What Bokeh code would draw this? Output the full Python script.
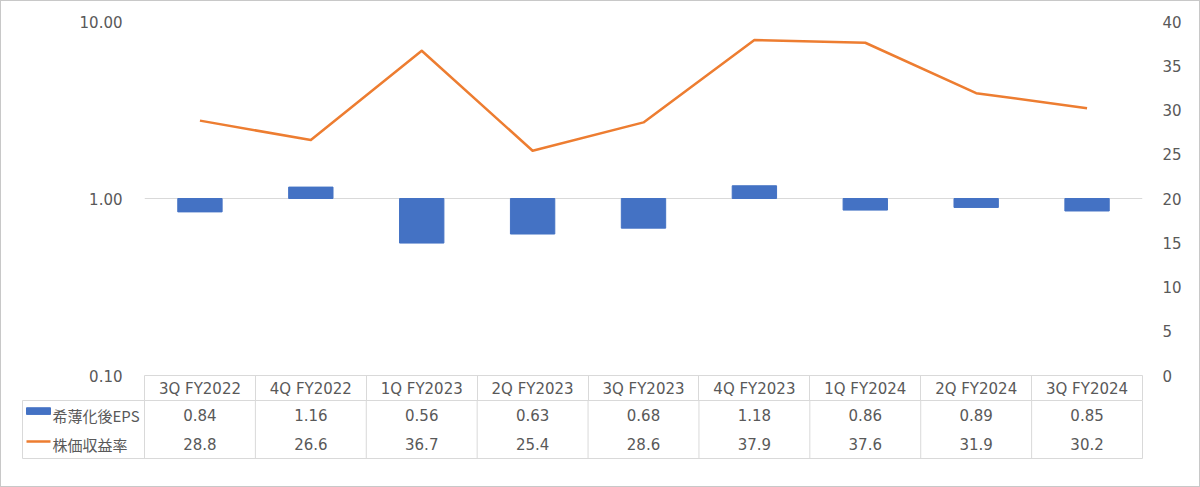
from bokeh.plotting import figure
from bokeh.layouts import column
from bokeh.models import (Range1d, LinearAxis, LogAxis, LinearScale, FixedTicker,
                          PrintfTickFormatter, ColumnDataSource)
from bokeh.core.properties import value
from bokeh.embed import file_html
from bokeh.resources import INLINE

# ---- data ----
categories = ["3Q FY2022", "4Q FY2022", "1Q FY2023", "2Q FY2023", "3Q FY2023",
              "4Q FY2023", "1Q FY2024", "2Q FY2024", "3Q FY2024"]
eps = [0.84, 1.16, 0.56, 0.63, 0.68, 1.18, 0.86, 0.89, 0.85]
per = [28.8, 26.6, 36.7, 25.4, 28.6, 37.9, 37.6, 31.9, 30.2]
eps_labels = ["0.84", "1.16", "0.56", "0.63", "0.68", "1.18", "0.86", "0.89", "0.85"]
per_labels = ["28.8", "26.6", "36.7", "25.4", "28.6", "37.9", "37.6", "31.9", "30.2"]
series_names = ["希薄化後EPS", "株価収益率"]
left_ticks = [0.1, 1, 10]
right_ticks = [0, 5, 10, 15, 20, 25, 30, 35, 40]

FONT = "DejaVu Sans"
JFONT = "Noto Sans CJK JP"
TXT = "#595959"
GRID = "#d9d9d9"
BLUE = "#4472C4"
ORANGE = "#ED7D31"
FS = "15px"

W = 1198
LEFT = 143
RIGHT = 57
FRAME_W = W - LEFT - RIGHT
n = len(categories)
xs = [i + 0.5 for i in range(n)]

# ---- top chart ----
p = figure(width=W, height=399, x_range=Range1d(0, n), y_range=Range1d(0.1, 10),
           y_axis_type="log", output_backend="svg", toolbar_location=None,
           min_border_left=LEFT, min_border_right=RIGHT, min_border_top=20,
           min_border_bottom=25, x_axis_location=None, y_axis_location=None,
           frame_align=False)
p.outline_line_color = None
p.extra_y_ranges = {"per": Range1d(0, 40)}
p.extra_y_scales = {"per": LinearScale()}

src = ColumnDataSource(dict(x=xs, eps=eps, per=per, cat=categories))
p.vbar(x="x", top="eps", bottom=1, width=0.4, source=src, color=BLUE)
p.line(x="x", y="per", source=src, y_range_name="per", line_color=ORANGE,
       line_width=2.5, line_join="round")

ly = LogAxis(ticker=FixedTicker(ticks=left_ticks),
             formatter=PrintfTickFormatter(format="%.2f"))
ly.axis_line_color = None
ly.major_tick_line_color = None
ly.minor_tick_line_color = None
ly.major_label_text_font = FONT
ly.major_label_text_font_size = FS
ly.major_label_text_color = TXT
ly.major_label_standoff = 16
p.add_layout(ly, "left")

ry = LinearAxis(y_range_name="per", ticker=FixedTicker(ticks=right_ticks))
ry.axis_line_color = None
ry.major_tick_line_color = None
ry.minor_tick_line_color = None
ry.major_label_text_font = FONT
ry.major_label_text_font_size = FS
ry.major_label_text_color = TXT
ry.major_label_standoff = 14
p.add_layout(ry, "right")

p.ygrid.ticker = FixedTicker(ticks=left_ticks)
p.ygrid.grid_line_color = GRID
p.xgrid.grid_line_color = None

# header row as categorical-style x axis
bx = LinearAxis(ticker=FixedTicker(ticks=xs, minor_ticks=list(range(n + 1))),
                major_label_overrides={x: c for x, c in zip(xs, categories)})
bx.axis_line_color = GRID
bx.major_tick_line_color = None
bx.major_tick_out = 0
bx.major_tick_in = 0
bx.minor_tick_line_color = GRID
bx.minor_tick_in = 0
bx.minor_tick_out = 25
bx.major_label_standoff = -21
bx.major_label_text_font = FONT
bx.major_label_text_font_size = FS
bx.major_label_text_color = TXT
p.add_layout(bx, "below")

# ---- data table ----
px_per_unit = FRAME_W / n
legend_w = 122
x0 = -legend_w / px_per_unit
t = figure(width=W, height=86, x_range=Range1d(x0, n), y_range=Range1d(2, 0),
           output_backend="svg", toolbar_location=None,
           min_border_left=LEFT - legend_w, min_border_right=RIGHT,
           min_border_top=0, min_border_bottom=28,
           x_axis_location=None, y_axis_location=None, frame_align=False)
t.grid.grid_line_color = None
t.outline_line_color = GRID
t.segment(x0=list(range(n)), y0=[0] * n, x1=list(range(n)), y1=[2] * n,
          line_color=GRID, line_width=1)

tsrc = ColumnDataSource(dict(x=xs, e=eps_labels, r=per_labels,
                             ye=[0.5] * n, yr=[1.5] * n))
t.text(x="x", y="ye", text="e", source=tsrc, text_align="center",
       text_baseline="middle", text_font=value(FONT), text_font_size=FS,
       text_color=TXT)
t.text(x="x", y="yr", text="r", source=tsrc, text_align="center",
       text_baseline="middle", text_font=value(FONT), text_font_size=FS,
       text_color=TXT)

# legend keys
kx0 = x0 + 4 / px_per_unit
kx1 = x0 + 28 / px_per_unit
t.quad(left=[kx0], right=[kx1], top=[0.25], bottom=[0.48], color=BLUE)
t.segment(x0=[kx0], y0=[1.41], x1=[kx1], y1=[1.41], line_color=ORANGE, line_width=2.5)
t.text(x=[x0 + 30 / px_per_unit] * 2, y=[0.5, 1.5], text=series_names,
       text_align="left", text_baseline="middle", text_font=value(JFONT),
       text_font_size=FS, text_color=TXT)

layout = column(p, t, spacing=0, styles={"border": "1px solid #c8c8c8"})
open("out.html", "w").write(file_html(layout, INLINE))
